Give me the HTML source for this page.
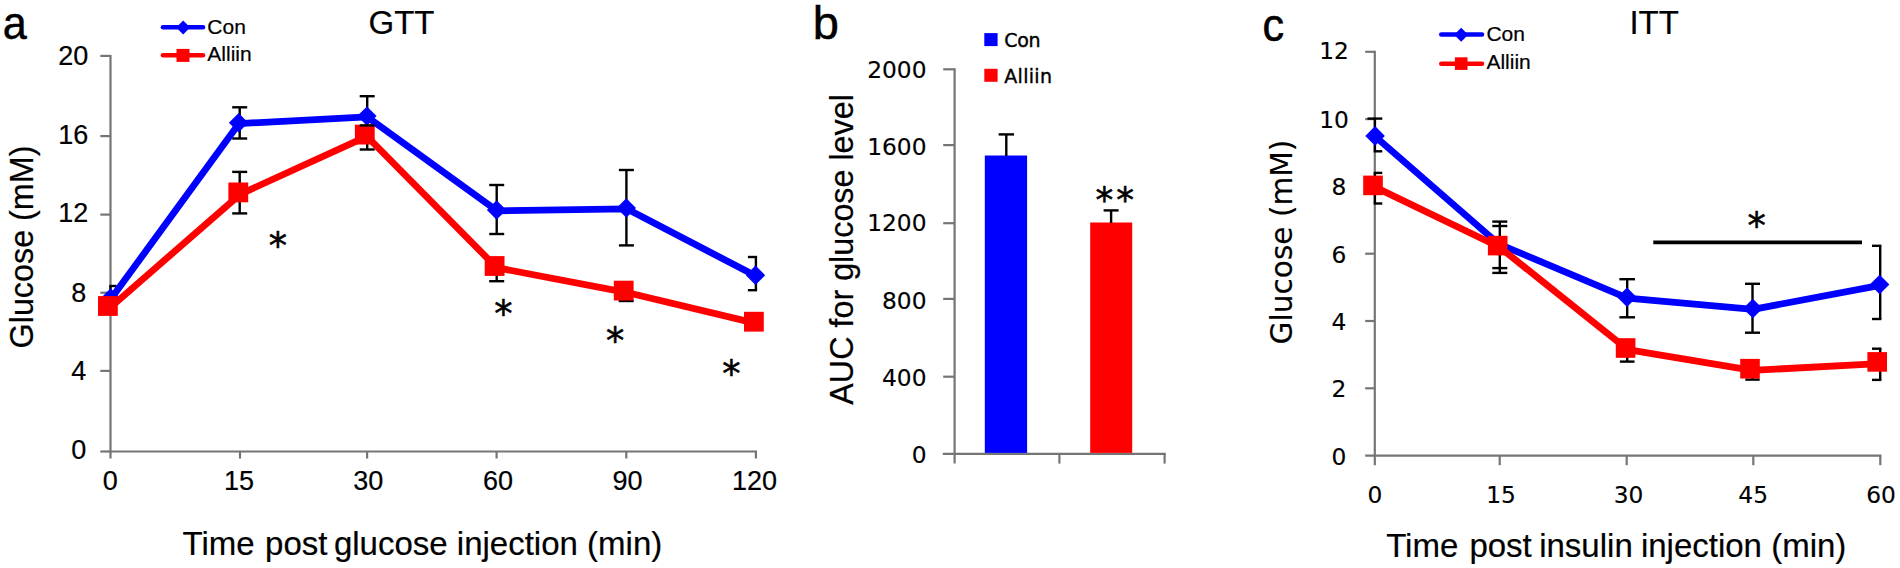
<!DOCTYPE html>
<html lang="en"><head><meta charset="utf-8"><title>GTT / AUC / ITT figure</title>
<style>
html,body{margin:0;padding:0;background:#fff;overflow:hidden;}
svg{display:block;}
text{font-family:"Liberation Sans", sans-serif;fill:#000;}
text.d{font-family:"DejaVu Sans", "Liberation Sans", sans-serif;}
</style></head><body>
<svg width="1900" height="568" viewBox="0 0 1900 568">
<rect width="1900" height="568" fill="#ffffff"/>
<g id="panel-a">
<line x1="110.5" y1="54.9" x2="110.5" y2="452.5" stroke="#757575" stroke-width="2.2" stroke-linecap="butt"/>
<line x1="109.5" y1="451.5" x2="757" y2="451.5" stroke="#757575" stroke-width="2.2" stroke-linecap="butt"/>
<line x1="100.3" y1="55.9" x2="110.5" y2="55.9" stroke="#757575" stroke-width="2.2" stroke-linecap="butt"/>
<text x="88.4" y="65.4" font-size="27" text-anchor="end" stroke="#000" stroke-width="0.2" stroke-linejoin="round">20</text>
<line x1="100.3" y1="136.1" x2="110.5" y2="136.1" stroke="#757575" stroke-width="2.2" stroke-linecap="butt"/>
<text x="88.4" y="143.7" font-size="27" text-anchor="end" stroke="#000" stroke-width="0.2" stroke-linejoin="round">16</text>
<line x1="100.3" y1="214.6" x2="110.5" y2="214.6" stroke="#757575" stroke-width="2.2" stroke-linecap="butt"/>
<text x="88.4" y="222" font-size="27" text-anchor="end" stroke="#000" stroke-width="0.2" stroke-linejoin="round">12</text>
<line x1="100.3" y1="292.7" x2="110.5" y2="292.7" stroke="#757575" stroke-width="2.2" stroke-linecap="butt"/>
<text x="86.2" y="302.4" font-size="27" text-anchor="end" stroke="#000" stroke-width="0.2" stroke-linejoin="round">8</text>
<line x1="100.3" y1="370.9" x2="110.5" y2="370.9" stroke="#757575" stroke-width="2.2" stroke-linecap="butt"/>
<text x="86.2" y="380.4" font-size="27" text-anchor="end" stroke="#000" stroke-width="0.2" stroke-linejoin="round">4</text>
<line x1="100.3" y1="451.5" x2="110.5" y2="451.5" stroke="#757575" stroke-width="2.2" stroke-linecap="butt"/>
<text x="86.2" y="459.1" font-size="27" text-anchor="end" stroke="#000" stroke-width="0.2" stroke-linejoin="round">0</text>
<line x1="110.5" y1="451.5" x2="110.5" y2="458.5" stroke="#757575" stroke-width="2.2" stroke-linecap="butt"/>
<text x="110.2" y="490.4" font-size="27" text-anchor="middle" stroke="#000" stroke-width="0.2" stroke-linejoin="round">0</text>
<line x1="240" y1="451.5" x2="240" y2="458.5" stroke="#757575" stroke-width="2.2" stroke-linecap="butt"/>
<text x="238.9" y="490.4" font-size="27" text-anchor="middle" stroke="#000" stroke-width="0.2" stroke-linejoin="round">15</text>
<line x1="367.1" y1="451.5" x2="367.1" y2="458.5" stroke="#757575" stroke-width="2.2" stroke-linecap="butt"/>
<text x="368.2" y="490.4" font-size="27" text-anchor="middle" stroke="#000" stroke-width="0.2" stroke-linejoin="round">30</text>
<line x1="496.6" y1="451.5" x2="496.6" y2="458.5" stroke="#757575" stroke-width="2.2" stroke-linecap="butt"/>
<text x="498" y="490.4" font-size="27" text-anchor="middle" stroke="#000" stroke-width="0.2" stroke-linejoin="round">60</text>
<line x1="626.3" y1="451.5" x2="626.3" y2="458.5" stroke="#757575" stroke-width="2.2" stroke-linecap="butt"/>
<text x="627.5" y="490.4" font-size="27" text-anchor="middle" stroke="#000" stroke-width="0.2" stroke-linejoin="round">90</text>
<line x1="755.9" y1="451.5" x2="755.9" y2="458.5" stroke="#757575" stroke-width="2.2" stroke-linecap="butt"/>
<text x="754.6" y="490.4" font-size="27" text-anchor="middle" stroke="#000" stroke-width="0.2" stroke-linejoin="round">120</text>
<line x1="110.5" y1="286" x2="110.5" y2="310" stroke="#000000" stroke-width="2.4" stroke-linecap="butt"/>
<line x1="109.3" y1="286" x2="116.5" y2="286" stroke="#000000" stroke-width="2.4" stroke-linecap="butt"/>
<line x1="109.3" y1="310" x2="116.5" y2="310" stroke="#000000" stroke-width="2.4" stroke-linecap="butt"/>
<line x1="239.7" y1="107.3" x2="239.7" y2="138.5" stroke="#000000" stroke-width="2.4" stroke-linecap="butt"/>
<line x1="232.2" y1="107.3" x2="247.2" y2="107.3" stroke="#000000" stroke-width="2.4" stroke-linecap="butt"/>
<line x1="232.2" y1="138.5" x2="247.2" y2="138.5" stroke="#000000" stroke-width="2.4" stroke-linecap="butt"/>
<line x1="239.7" y1="171.9" x2="239.7" y2="213.4" stroke="#000000" stroke-width="2.4" stroke-linecap="butt"/>
<line x1="232.2" y1="171.9" x2="247.2" y2="171.9" stroke="#000000" stroke-width="2.4" stroke-linecap="butt"/>
<line x1="232.2" y1="213.4" x2="247.2" y2="213.4" stroke="#000000" stroke-width="2.4" stroke-linecap="butt"/>
<line x1="367.2" y1="96.2" x2="367.2" y2="136" stroke="#000000" stroke-width="2.4" stroke-linecap="butt"/>
<line x1="359.7" y1="96.2" x2="374.7" y2="96.2" stroke="#000000" stroke-width="2.4" stroke-linecap="butt"/>
<line x1="367.2" y1="125.4" x2="367.2" y2="149.5" stroke="#000000" stroke-width="2.4" stroke-linecap="butt"/>
<line x1="359.7" y1="149.5" x2="374.7" y2="149.5" stroke="#000000" stroke-width="2.4" stroke-linecap="butt"/>
<line x1="496.7" y1="185" x2="496.7" y2="234" stroke="#000000" stroke-width="2.4" stroke-linecap="butt"/>
<line x1="489.2" y1="185" x2="504.2" y2="185" stroke="#000000" stroke-width="2.4" stroke-linecap="butt"/>
<line x1="489.2" y1="234" x2="504.2" y2="234" stroke="#000000" stroke-width="2.4" stroke-linecap="butt"/>
<line x1="496.7" y1="258" x2="496.7" y2="281.2" stroke="#000000" stroke-width="2.4" stroke-linecap="butt"/>
<line x1="489.2" y1="281.2" x2="504.2" y2="281.2" stroke="#000000" stroke-width="2.4" stroke-linecap="butt"/>
<line x1="626.4" y1="170" x2="626.4" y2="245.4" stroke="#000000" stroke-width="2.4" stroke-linecap="butt"/>
<line x1="618.9" y1="170" x2="633.9" y2="170" stroke="#000000" stroke-width="2.4" stroke-linecap="butt"/>
<line x1="618.9" y1="245.4" x2="633.9" y2="245.4" stroke="#000000" stroke-width="2.4" stroke-linecap="butt"/>
<line x1="626.2" y1="285" x2="626.2" y2="301" stroke="#000000" stroke-width="2.4" stroke-linecap="butt"/>
<line x1="618.7" y1="301" x2="633.7" y2="301" stroke="#000000" stroke-width="2.4" stroke-linecap="butt"/>
<line x1="755.9" y1="257" x2="755.9" y2="290.2" stroke="#000000" stroke-width="2.4" stroke-linecap="butt"/>
<line x1="747.9" y1="257" x2="757.1" y2="257" stroke="#000000" stroke-width="2.4" stroke-linecap="butt"/>
<line x1="747.9" y1="290.2" x2="757.1" y2="290.2" stroke="#000000" stroke-width="2.4" stroke-linecap="butt"/>
<polyline points="111,298.8 239,123.6 367.3,116.9 497,210.8 626.7,208.8 755.9,276" fill="none" stroke="#0000ff" stroke-width="6.8" stroke-linejoin="round" stroke-linecap="round"/>
<polygon points="100.9,298 110.6,288.3 120.3,298 110.6,307.7" fill="#0000ff"/>
<polygon points="228.9,122.8 238.6,113.1 248.3,122.8 238.6,132.5" fill="#0000ff"/>
<polygon points="357.2,116.1 366.9,106.4 376.6,116.1 366.9,125.8" fill="#0000ff"/>
<polygon points="486.9,210 496.6,200.3 506.3,210 496.6,219.7" fill="#0000ff"/>
<polygon points="616.6,208 626.3,198.3 636,208 626.3,217.7" fill="#0000ff"/>
<polygon points="745.8,275.2 755.5,265.5 765.2,275.2 755.5,284.9" fill="#0000ff"/>
<polyline points="110,307.7 240.4,194.1 366.9,136.3 496.7,267.7 625.8,292.3 756,323.4" fill="none" stroke="#ff0000" stroke-width="6.8" stroke-linejoin="round" stroke-linecap="round"/>
<rect x="98" y="296.1" width="19.8" height="19.8" fill="#ff0000"/>
<rect x="228.4" y="182.5" width="19.8" height="19.8" fill="#ff0000"/>
<rect x="354.9" y="124.7" width="19.8" height="19.8" fill="#ff0000"/>
<rect x="484.7" y="256.1" width="19.8" height="19.8" fill="#ff0000"/>
<rect x="613.8" y="280.7" width="19.8" height="19.8" fill="#ff0000"/>
<rect x="744" y="311.8" width="19.8" height="19.8" fill="#ff0000"/>
<line x1="359.7" y1="125.4" x2="374.7" y2="125.4" stroke="#000000" stroke-width="2.4" stroke-linecap="butt"/>
<polygon points="358.7,116.1 366.9,107.9 375.1,116.1 366.9,124.3" fill="#0000ff"/>
<text x="277.8" y="259.3" font-size="36.5" text-anchor="middle" class="d" stroke="#000" stroke-width="0.55" stroke-linejoin="round">*</text>
<text x="503.4" y="326.8" font-size="36.5" text-anchor="middle" class="d" stroke="#000" stroke-width="0.55" stroke-linejoin="round">*</text>
<text x="615.2" y="353.6" font-size="36.5" text-anchor="middle" class="d" stroke="#000" stroke-width="0.55" stroke-linejoin="round">*</text>
<text x="731.4" y="387" font-size="36.5" text-anchor="middle" class="d" stroke="#000" stroke-width="0.55" stroke-linejoin="round">*</text>
<line x1="163" y1="27.2" x2="203" y2="27.2" stroke="#0000ff" stroke-width="4.6" stroke-linecap="round"/>
<polygon points="176.2,27.4 183.2,20.4 190.2,27.4 183.2,34.4" fill="#0000ff"/>
<line x1="163" y1="55.3" x2="203" y2="55.3" stroke="#ff0000" stroke-width="4.6" stroke-linecap="round"/>
<rect x="176.5" y="48.9" width="13" height="13" fill="#ff0000"/>
<text x="207.3" y="33.9" font-size="21" stroke="#000" stroke-width="0.2" stroke-linejoin="round">Con</text>
<text x="207.3" y="61.2" font-size="21" stroke="#000" stroke-width="0.2" stroke-linejoin="round">Alliin</text>
<text x="401.5" y="34.3" font-size="33" text-anchor="middle" stroke="#000" stroke-width="0.2" stroke-linejoin="round">GTT</text>
<text x="2.8" y="39" font-size="47" transform="translate(0.22 0) scale(0.92 1)" stroke="#000" stroke-width="0.5" stroke-linejoin="round">a</text>
<text y="554.9" font-size="33" stroke="#000" stroke-width="0.2" stroke-linejoin="round" xml:space="preserve"><tspan x="182.6">Time </tspan><tspan x="265.1">post </tspan><tspan x="333.9">glucose </tspan><tspan x="456.8">injection </tspan><tspan x="587.1">(min)</tspan></text>
<text x="33.2" y="247" font-size="32.3" text-anchor="middle" stroke="#000" stroke-width="0.2" stroke-linejoin="round" transform="rotate(-90 33.2 247)">Glucose (mM)</text>
</g>
<g id="panel-b">
<line x1="954.6" y1="68.3" x2="954.6" y2="463.6" stroke="#757575" stroke-width="2.2" stroke-linecap="butt"/>
<line x1="942.8" y1="453.9" x2="1165.7" y2="453.9" stroke="#757575" stroke-width="2.2" stroke-linecap="butt"/>
<line x1="943.2" y1="69.3" x2="954.6" y2="69.3" stroke="#757575" stroke-width="2.2" stroke-linecap="butt"/>
<text x="926.5" y="78.2" font-size="23.3" text-anchor="end" class="d" stroke="#000" stroke-width="0.15" stroke-linejoin="round">2000</text>
<line x1="943.2" y1="145.1" x2="954.6" y2="145.1" stroke="#757575" stroke-width="2.2" stroke-linecap="butt"/>
<text x="926.5" y="154.9" font-size="23.3" text-anchor="end" class="d" stroke="#000" stroke-width="0.15" stroke-linejoin="round">1600</text>
<line x1="943.2" y1="223.2" x2="954.6" y2="223.2" stroke="#757575" stroke-width="2.2" stroke-linecap="butt"/>
<text x="926.5" y="231.3" font-size="23.3" text-anchor="end" class="d" stroke="#000" stroke-width="0.15" stroke-linejoin="round">1200</text>
<line x1="943.2" y1="298.9" x2="954.6" y2="298.9" stroke="#757575" stroke-width="2.2" stroke-linecap="butt"/>
<text x="926.5" y="308.8" font-size="23.3" text-anchor="end" class="d" stroke="#000" stroke-width="0.15" stroke-linejoin="round">800</text>
<line x1="943.2" y1="376.7" x2="954.6" y2="376.7" stroke="#757575" stroke-width="2.2" stroke-linecap="butt"/>
<text x="926.5" y="385.5" font-size="23.3" text-anchor="end" class="d" stroke="#000" stroke-width="0.15" stroke-linejoin="round">400</text>
<text x="926.5" y="463" font-size="23.3" text-anchor="end" class="d" stroke="#000" stroke-width="0.15" stroke-linejoin="round">0</text>
<line x1="1059.4" y1="453.9" x2="1059.4" y2="463.6" stroke="#757575" stroke-width="2.2" stroke-linecap="butt"/>
<line x1="1164.6" y1="453.9" x2="1164.6" y2="463.6" stroke="#757575" stroke-width="2.2" stroke-linecap="butt"/>
<rect x="984.8" y="155.5" width="42.3" height="297.4" fill="#0000ff"/>
<rect x="1090.2" y="222.5" width="42" height="230.4" fill="#ff0000"/>
<line x1="1006.3" y1="134.4" x2="1006.3" y2="156" stroke="#000000" stroke-width="2.4" stroke-linecap="butt"/>
<line x1="998.6" y1="134.4" x2="1014" y2="134.4" stroke="#000000" stroke-width="2.4" stroke-linecap="butt"/>
<line x1="1111.1" y1="210.4" x2="1111.1" y2="223" stroke="#000000" stroke-width="2.4" stroke-linecap="butt"/>
<line x1="1103.6" y1="210.4" x2="1118.6" y2="210.4" stroke="#000000" stroke-width="2.4" stroke-linecap="butt"/>
<text x="1104.3 1125" y="211.5" font-size="35.5" text-anchor="middle" class="d" stroke="#000" stroke-width="0.55" stroke-linejoin="round">**</text>
<rect x="984.3" y="33.1" width="13.3" height="13" fill="#0000ff"/>
<rect x="984.3" y="68.8" width="13.3" height="13" fill="#ff0000"/>
<text x="1004.3" y="47.1" font-size="19" class="d" letter-spacing="-0.3" stroke="#000" stroke-width="0.4" stroke-linejoin="round">Con</text>
<text x="1004.3" y="83" font-size="19" class="d" letter-spacing="0.3" stroke="#000" stroke-width="0.4" stroke-linejoin="round">Alliin</text>
<text x="812.8" y="38.7" font-size="47" stroke="#000" stroke-width="0.5" stroke-linejoin="round">b</text>
<text x="852.8" y="249.4" font-size="32.3" text-anchor="middle" stroke="#000" stroke-width="0.2" stroke-linejoin="round" transform="rotate(-90 852.8 249.4)">AUC for glucose level</text>
</g>
<g id="panel-c">
<line x1="1374.8" y1="50.8" x2="1374.8" y2="465.2" stroke="#757575" stroke-width="2.2" stroke-linecap="butt"/>
<line x1="1365.2" y1="455.6" x2="1881.4" y2="455.6" stroke="#757575" stroke-width="2.2" stroke-linecap="butt"/>
<line x1="1365.2" y1="51.8" x2="1374.8" y2="51.8" stroke="#757575" stroke-width="2.2" stroke-linecap="butt"/>
<text x="1348.8" y="59.3" font-size="23.3" text-anchor="end" class="d" stroke="#000" stroke-width="0.15" stroke-linejoin="round">12</text>
<line x1="1365.2" y1="119.1" x2="1374.8" y2="119.1" stroke="#757575" stroke-width="2.2" stroke-linecap="butt"/>
<text x="1348.8" y="127.7" font-size="23.3" text-anchor="end" class="d" stroke="#000" stroke-width="0.15" stroke-linejoin="round">10</text>
<line x1="1365.2" y1="186.4" x2="1374.8" y2="186.4" stroke="#757575" stroke-width="2.2" stroke-linecap="butt"/>
<text x="1346.3" y="195.3" font-size="23.3" text-anchor="end" class="d" stroke="#000" stroke-width="0.15" stroke-linejoin="round">8</text>
<line x1="1365.2" y1="253.7" x2="1374.8" y2="253.7" stroke="#757575" stroke-width="2.2" stroke-linecap="butt"/>
<text x="1346.3" y="262.6" font-size="23.3" text-anchor="end" class="d" stroke="#000" stroke-width="0.15" stroke-linejoin="round">6</text>
<line x1="1365.2" y1="321" x2="1374.8" y2="321" stroke="#757575" stroke-width="2.2" stroke-linecap="butt"/>
<text x="1346.3" y="329.9" font-size="23.3" text-anchor="end" class="d" stroke="#000" stroke-width="0.15" stroke-linejoin="round">4</text>
<line x1="1365.2" y1="388.3" x2="1374.8" y2="388.3" stroke="#757575" stroke-width="2.2" stroke-linecap="butt"/>
<text x="1346.3" y="397.2" font-size="23.3" text-anchor="end" class="d" stroke="#000" stroke-width="0.15" stroke-linejoin="round">2</text>
<text x="1346.3" y="464.5" font-size="23.3" text-anchor="end" class="d" stroke="#000" stroke-width="0.15" stroke-linejoin="round">0</text>
<text x="1375" y="503.3" font-size="23.3" text-anchor="middle" class="d" stroke="#000" stroke-width="0.15" stroke-linejoin="round">0</text>
<line x1="1499.7" y1="455.6" x2="1499.7" y2="465.2" stroke="#757575" stroke-width="2.2" stroke-linecap="butt"/>
<text x="1501" y="503.3" font-size="23.3" text-anchor="middle" class="d" stroke="#000" stroke-width="0.15" stroke-linejoin="round">15</text>
<line x1="1626.7" y1="455.6" x2="1626.7" y2="465.2" stroke="#757575" stroke-width="2.2" stroke-linecap="butt"/>
<text x="1628.5" y="503.3" font-size="23.3" text-anchor="middle" class="d" stroke="#000" stroke-width="0.15" stroke-linejoin="round">30</text>
<line x1="1753.3" y1="455.6" x2="1753.3" y2="465.2" stroke="#757575" stroke-width="2.2" stroke-linecap="butt"/>
<text x="1753.2" y="503.3" font-size="23.3" text-anchor="middle" class="d" stroke="#000" stroke-width="0.15" stroke-linejoin="round">45</text>
<line x1="1880.3" y1="455.6" x2="1880.3" y2="465.2" stroke="#757575" stroke-width="2.2" stroke-linecap="butt"/>
<text x="1881" y="503.3" font-size="23.3" text-anchor="middle" class="d" stroke="#000" stroke-width="0.15" stroke-linejoin="round">60</text>
<line x1="1374.9" y1="118.6" x2="1374.9" y2="151.3" stroke="#000000" stroke-width="2.4" stroke-linecap="butt"/>
<line x1="1373.7" y1="118.6" x2="1382.3" y2="118.6" stroke="#000000" stroke-width="2.4" stroke-linecap="butt"/>
<line x1="1373.7" y1="151.3" x2="1382.3" y2="151.3" stroke="#000000" stroke-width="2.4" stroke-linecap="butt"/>
<line x1="1367.5" y1="118.6" x2="1375" y2="118.6" stroke="#000000" stroke-width="2.4" stroke-linecap="butt"/>
<line x1="1374.9" y1="172.9" x2="1374.9" y2="203.5" stroke="#000000" stroke-width="2.4" stroke-linecap="butt"/>
<line x1="1373.7" y1="172.9" x2="1382.3" y2="172.9" stroke="#000000" stroke-width="2.4" stroke-linecap="butt"/>
<line x1="1373.7" y1="203.5" x2="1382.3" y2="203.5" stroke="#000000" stroke-width="2.4" stroke-linecap="butt"/>
<line x1="1499.8" y1="221.6" x2="1499.8" y2="272.9" stroke="#000000" stroke-width="2.4" stroke-linecap="butt"/>
<line x1="1492.3" y1="221.6" x2="1507.3" y2="221.6" stroke="#000000" stroke-width="2.4" stroke-linecap="butt"/>
<line x1="1492.3" y1="272.9" x2="1507.3" y2="272.9" stroke="#000000" stroke-width="2.4" stroke-linecap="butt"/>
<line x1="1492.3" y1="226" x2="1507.3" y2="226" stroke="#000000" stroke-width="2.4" stroke-linecap="butt"/>
<line x1="1492.3" y1="268.1" x2="1507.3" y2="268.1" stroke="#000000" stroke-width="2.4" stroke-linecap="butt"/>
<line x1="1627.2" y1="279.2" x2="1627.2" y2="317.3" stroke="#000000" stroke-width="2.4" stroke-linecap="butt"/>
<line x1="1619.4" y1="279.2" x2="1635" y2="279.2" stroke="#000000" stroke-width="2.4" stroke-linecap="butt"/>
<line x1="1619.4" y1="317.3" x2="1635" y2="317.3" stroke="#000000" stroke-width="2.4" stroke-linecap="butt"/>
<line x1="1627.2" y1="340" x2="1627.2" y2="361.6" stroke="#000000" stroke-width="2.4" stroke-linecap="butt"/>
<line x1="1619.9" y1="361.6" x2="1634.5" y2="361.6" stroke="#000000" stroke-width="2.4" stroke-linecap="butt"/>
<line x1="1752.5" y1="283.8" x2="1752.5" y2="332.7" stroke="#000000" stroke-width="2.4" stroke-linecap="butt"/>
<line x1="1745" y1="283.8" x2="1760" y2="283.8" stroke="#000000" stroke-width="2.4" stroke-linecap="butt"/>
<line x1="1745" y1="332.7" x2="1760" y2="332.7" stroke="#000000" stroke-width="2.4" stroke-linecap="butt"/>
<line x1="1752.5" y1="365" x2="1752.5" y2="379.6" stroke="#000000" stroke-width="2.4" stroke-linecap="butt"/>
<line x1="1745.3" y1="379.6" x2="1759.7" y2="379.6" stroke="#000000" stroke-width="2.4" stroke-linecap="butt"/>
<line x1="1880.2" y1="245.8" x2="1880.2" y2="319" stroke="#000000" stroke-width="2.4" stroke-linecap="butt"/>
<line x1="1872" y1="245.8" x2="1881.4" y2="245.8" stroke="#000000" stroke-width="2.4" stroke-linecap="butt"/>
<line x1="1872" y1="319" x2="1881.4" y2="319" stroke="#000000" stroke-width="2.4" stroke-linecap="butt"/>
<line x1="1880.2" y1="348.7" x2="1880.2" y2="379.9" stroke="#000000" stroke-width="2.4" stroke-linecap="butt"/>
<line x1="1872" y1="348.7" x2="1881.4" y2="348.7" stroke="#000000" stroke-width="2.4" stroke-linecap="butt"/>
<line x1="1872" y1="379.9" x2="1881.4" y2="379.9" stroke="#000000" stroke-width="2.4" stroke-linecap="butt"/>
<polyline points="1375.5,136.7 1498.4,243.8 1627.4,298.1 1753.2,309.3 1880,285.3" fill="none" stroke="#0000ff" stroke-width="6.8" stroke-linejoin="round" stroke-linecap="round"/>
<polygon points="1365.3,135.9 1375.1,126.1 1384.9,135.9 1375.1,145.7" fill="#0000ff"/>
<polygon points="1488.2,245.8 1498,236 1507.8,245.8 1498,255.6" fill="#0000ff"/>
<polygon points="1617.2,297.3 1627,287.5 1636.8,297.3 1627,307.1" fill="#0000ff"/>
<polygon points="1743,308.5 1752.8,298.7 1762.6,308.5 1752.8,318.3" fill="#0000ff"/>
<polygon points="1869.8,284.5 1879.6,274.7 1889.4,284.5 1879.6,294.3" fill="#0000ff"/>
<polyline points="1375.1,187.1 1499.8,247.3 1627.7,349.7 1752.1,370.4 1879.3,363.6" fill="none" stroke="#ff0000" stroke-width="6.8" stroke-linejoin="round" stroke-linecap="round"/>
<rect x="1363.2" y="175.6" width="19.6" height="19.6" fill="#ff0000"/>
<rect x="1487.9" y="235.8" width="19.6" height="19.6" fill="#ff0000"/>
<rect x="1615.8" y="338.2" width="19.6" height="19.6" fill="#ff0000"/>
<rect x="1740.2" y="358.9" width="19.6" height="19.6" fill="#ff0000"/>
<rect x="1867.4" y="352.1" width="19.6" height="19.6" fill="#ff0000"/>
<line x1="1653.3" y1="242.3" x2="1862" y2="242.3" stroke="#000000" stroke-width="3.8" stroke-linecap="butt"/>
<text x="1756.6" y="238.6" font-size="36.5" text-anchor="middle" class="d" stroke="#000" stroke-width="0.55" stroke-linejoin="round">*</text>
<line x1="1441.3" y1="34.5" x2="1482" y2="34.5" stroke="#0000ff" stroke-width="4.6" stroke-linecap="round"/>
<polygon points="1454.2,34.8 1461.2,27.8 1468.2,34.8 1461.2,41.8" fill="#0000ff"/>
<line x1="1441.3" y1="63.7" x2="1482" y2="63.7" stroke="#ff0000" stroke-width="4.6" stroke-linecap="round"/>
<rect x="1454.9" y="57.3" width="12.6" height="12.6" fill="#ff0000"/>
<text x="1486.4" y="41.1" font-size="21" stroke="#000" stroke-width="0.2" stroke-linejoin="round">Con</text>
<text x="1486.4" y="69.4" font-size="21" stroke="#000" stroke-width="0.2" stroke-linejoin="round">Alliin</text>
<text x="1629.4" y="34.2" font-size="33" stroke="#000" stroke-width="0.2" stroke-linejoin="round">ITT</text>
<text x="1262.6" y="41.2" font-size="45.5" transform="translate(63.13 0) scale(0.95 1)" stroke="#000" stroke-width="0.6" stroke-linejoin="round">c</text>
<text y="556.8" font-size="33" stroke="#000" stroke-width="0.2" stroke-linejoin="round" xml:space="preserve"><tspan x="1386.2">Time </tspan><tspan x="1469.4">post </tspan><tspan x="1539.2">insulin </tspan><tspan x="1640.9">injection </tspan><tspan x="1771.2">(min)</tspan></text>
<text x="1292.3" y="242" font-size="29.6" text-anchor="middle" class="d" stroke="#000" stroke-width="0.15" stroke-linejoin="round" transform="rotate(-90 1292.3 242)">Glucose (mM)</text>
</g>
</svg>
</body></html>
